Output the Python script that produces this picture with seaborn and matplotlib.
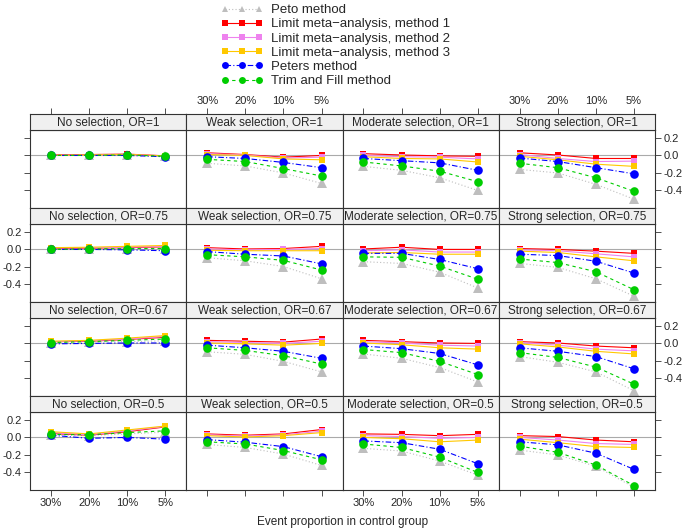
import pandas as pd
import seaborn as sns
import matplotlib.pyplot as plt
from matplotlib.lines import Line2D

sns.set_style("white")
plt.rcParams['font.family'] = ['Liberation Sans', 'DejaVu Sans']

# Categories
x_labels = ['30%', '20%', '10%', '5%']
selections = ['No', 'Weak', 'Moderate', 'Strong']
odds_ratios = ['1', '0.75', '0.67', '0.5']

# Mean bias per panel (row-major: OR=1 row first, columns No/Weak/Moderate/Strong)
peto = [
    [0.0, 0.0, 0.0, -0.01], [-0.09, -0.12, -0.2, -0.32], [-0.125, -0.17, -0.255, -0.40], [-0.16, -0.2, -0.33, -0.5],
    [0.0, 0.005, 0.005, 0.0], [-0.095, -0.13, -0.195, -0.335], [-0.14, -0.16, -0.26, -0.44], [-0.16, -0.205, -0.335, -0.535],
    [0.01, 0.015, 0.02, 0.03], [-0.095, -0.125, -0.205, -0.325], [-0.12, -0.17, -0.275, -0.44], [-0.15, -0.215, -0.325, -0.54],
    [0.03, 0.02, 0.04, 0.06], [-0.08, -0.115, -0.19, -0.32], [-0.125, -0.155, -0.27, -0.43], [-0.145, -0.2, -0.33, -0.57],
]
limit1 = [
    [0.005, 0.01, 0.015, -0.005], [0.03, 0.01, -0.02, 0.0], [0.02, 0.005, -0.005, -0.01], [0.03, 0.005, -0.035, -0.035],
    [0.01, 0.015, 0.02, 0.03], [0.02, 0.005, 0.01, 0.035], [0.005, 0.025, 0.0, 0.0], [0.01, 0.0, -0.02, -0.045],
    [0.02, 0.025, 0.045, 0.07], [0.035, 0.025, 0.015, 0.05], [0.035, 0.02, 0.005, 0.0], [0.02, 0.005, -0.03, -0.05],
    [0.045, 0.025, 0.065, 0.12], [0.04, 0.025, 0.04, 0.09], [0.04, 0.035, 0.02, 0.035], [0.02, 0.01, -0.03, -0.05],
]
limit2 = [
    [0.0, 0.005, 0.01, -0.005], [0.02, 0.005, -0.03, -0.02], [0.0, -0.015, -0.02, -0.04], [0.01, -0.035, -0.07, -0.065],
    [0.015, 0.02, 0.025, 0.035], [0.005, -0.005, 0.0, 0.01], [-0.015, -0.005, -0.03, -0.03], [-0.005, -0.015, -0.05, -0.085],
    [0.02, 0.03, 0.05, 0.08], [0.02, 0.01, 0.0, 0.025], [0.02, 0.005, -0.02, -0.03], [0.01, -0.02, -0.065, -0.085],
    [0.055, 0.03, 0.075, 0.125], [0.03, 0.015, 0.03, 0.07], [0.02, 0.01, -0.01, 0.0], [0.0, -0.03, -0.07, -0.08],
]
limit3 = [
    [0.0, 0.005, 0.01, -0.005], [0.01, 0.0, -0.04, -0.05], [-0.015, -0.035, -0.04, -0.075], [-0.01, -0.05, -0.1, -0.125],
    [0.02, 0.025, 0.035, 0.045], [-0.01, -0.015, -0.015, -0.015], [-0.04, -0.035, -0.055, -0.055], [-0.02, -0.035, -0.085, -0.13],
    [0.025, 0.035, 0.06, 0.09], [0.005, -0.005, -0.02, 0.0], [0.005, -0.015, -0.05, -0.065], [-0.005, -0.04, -0.09, -0.12],
    [0.065, 0.04, 0.085, 0.13], [0.02, 0.005, 0.02, 0.055], [0.0, -0.015, -0.05, -0.03], [-0.02, -0.06, -0.105, -0.115],
]
peters = [
    [0.0, 0.0, 0.0, -0.015], [-0.015, -0.035, -0.08, -0.14], [-0.035, -0.06, -0.085, -0.17], [-0.03, -0.07, -0.14, -0.21],
    [0.0, 0.0, -0.005, -0.015], [-0.025, -0.055, -0.075, -0.165], [-0.045, -0.045, -0.115, -0.22], [-0.055, -0.07, -0.135, -0.27],
    [-0.005, 0.0, 0.005, 0.005], [-0.02, -0.05, -0.09, -0.17], [-0.03, -0.06, -0.115, -0.245], [-0.05, -0.09, -0.15, -0.29],
    [0.025, -0.01, 0.0, -0.02], [-0.025, -0.055, -0.105, -0.22], [-0.04, -0.06, -0.135, -0.30], [-0.05, -0.085, -0.18, -0.365],
]
trimfill = [
    [0.0, 0.0, 0.005, -0.01], [-0.045, -0.07, -0.15, -0.235], [-0.075, -0.12, -0.18, -0.30], [-0.09, -0.14, -0.255, -0.41],
    [0.0, 0.005, 0.01, 0.01], [-0.06, -0.085, -0.125, -0.235], [-0.085, -0.09, -0.19, -0.34], [-0.11, -0.15, -0.255, -0.46],
    [0.01, 0.02, 0.035, 0.05], [-0.05, -0.08, -0.14, -0.235], [-0.07, -0.105, -0.205, -0.355], [-0.105, -0.16, -0.27, -0.465],
    [0.035, 0.03, 0.055, 0.075], [-0.05, -0.075, -0.15, -0.255], [-0.075, -0.115, -0.225, -0.40], [-0.1, -0.17, -0.315, -0.55],
]

methods = ['Peto method', 'Limit meta\u2212analysis, method 1', 'Limit meta\u2212analysis, method 2',
           'Limit meta\u2212analysis, method 3', 'Peters method', 'Trim and Fill method']
colors = ['#BEBEBE', '#FF0000', '#EE82EE', '#FFC800', '#0000FF', '#00CD00']
markers = ['^', 's', 's', 's', 'o', 'o']
linestyles = [(0, (1, 2)), '-', '-', '-', (0, (5, 2, 1, 2)), (0, (3, 3))]
msizes = [6.5, 5, 5, 5, 6.2, 6.2]

# long table
records = []
for m, vals in zip(methods, [peto, limit1, limit2, limit3, peters, trimfill]):
    for p, panel in enumerate(vals):
        r, c = divmod(p, 4)
        for k, v in enumerate(panel):
            records.append(dict(method=m, row=r, col=c, x=k + 1, y=v))
df = pd.DataFrame(records)

W, H = 685, 531
fig = plt.figure(figsize=(W / 100, H / 100), dpi=100)

left0, pw = 30, 156.25
top0, rh, sh = 114, 94, 16
xlim = (0.45, 4.55)
ylim = (-0.60, 0.29)
yticks = [-0.4, -0.2, 0.0, 0.2]
ylabels = ['-0.4', '-0.2', '0.0', '0.2']
edge = '#333333'


def fig_rect(x, y, w, h):
    return [x / W, 1 - (y + h) / H, w / W, h / H]


for r in range(4):
    for c in range(4):
        xl = left0 + c * pw
        st = top0 + r * rh
        ax = fig.add_axes(fig_rect(xl, st + sh, pw, rh - sh))
        sax = fig.add_axes(fig_rect(xl, st, pw, sh))

        ax.axhline(0, color='#AAAAAA', lw=0.8, zorder=1)
        sub = df[(df.row == r) & (df.col == c)]
        for m, col, mk, ls, ms in zip(methods, colors, markers, linestyles, msizes):
            d = sub[sub.method == m]
            sns.lineplot(data=d, x='x', y='y', ax=ax, color=col, marker=mk,
                         linestyle=ls, markersize=ms, markeredgewidth=0, lw=0.8)
        ax.set_xlim(*xlim)
        ax.set_ylim(*ylim)
        ax.set_xlabel('')
        ax.set_ylabel('')
        for s in ax.spines.values():
            s.set_color(edge)
            s.set_linewidth(0.8)

        # x ticks
        ax.set_xticks([1, 2, 3, 4])
        ax.set_xticklabels(x_labels)
        ax.tick_params(axis='x', direction='out', length=4, width=0.6, labelsize=8,
                       pad=2, color=edge,
                       bottom=(r == 3), labelbottom=(r == 3 and c in (0, 2)),
                       top=False, labeltop=False)
        # y ticks
        ax.set_yticks(yticks)
        ax.set_yticklabels(ylabels)
        ax.tick_params(axis='y', direction='out', length=4, width=0.6, labelsize=8,
                       pad=2, color=edge,
                       left=(c == 0), labelleft=(c == 0 and r in (1, 3)),
                       right=(c == 3), labelright=(c == 3 and r in (0, 2)))

        # strip
        sax.set_facecolor('#F0F0F0')
        sax.set_xlim(*xlim)
        sax.set_yticks([])
        for s in sax.spines.values():
            s.set_color(edge)
            s.set_linewidth(0.8)
        sax.set_xticks([1, 2, 3, 4])
        sax.set_xticklabels(x_labels)
        sax.tick_params(axis='x', direction='out', length=4, width=0.6, labelsize=8,
                        pad=2, color=edge, bottom=False, labelbottom=False,
                        top=(r == 0), labeltop=(r == 0 and c in (1, 3)))
        sax.text(0.5, 0.45, f'{selections[c]} selection, OR={odds_ratios[r]}',
                 transform=sax.transAxes, ha='center', va='center', fontsize=8.5)

handles = [Line2D([], [], color=col, marker=mk, linestyle=ls, markersize=5,
                  markeredgewidth=0, lw=0.8)
           for col, mk, ls in zip(colors, markers, linestyles)]
fig.legend(handles, methods, loc='upper center', bbox_to_anchor=(0.49, 1.005),
           frameon=False, numpoints=3, handlelength=3.2, fontsize=9.5,
           labelspacing=0.15, handletextpad=0.6, borderaxespad=0.1)

fig.text(0.5, 1 - 522 / H, 'Event proportion in control group', ha='center',
         va='center', fontsize=8.5)

fig.savefig('out.png', dpi=100)
